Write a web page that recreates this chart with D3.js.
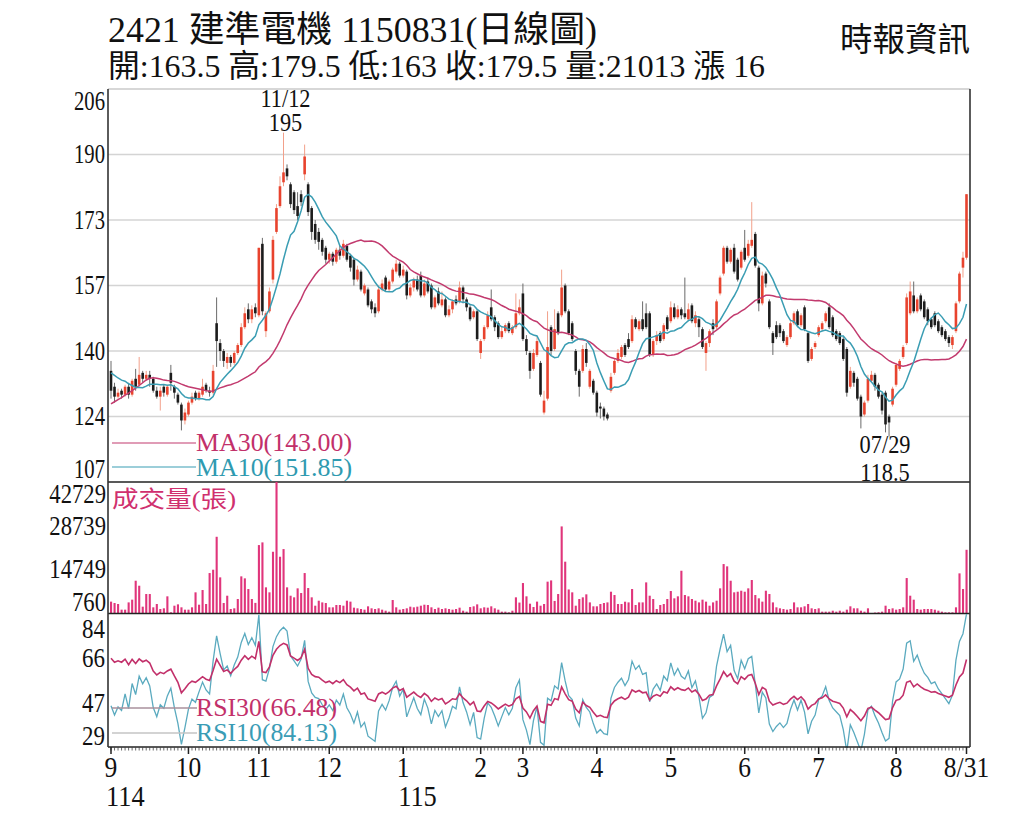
<!DOCTYPE html>
<html><head><meta charset="utf-8">
<script src="https://cdn.jsdelivr.net/npm/d3@7"></script>
<style>
body{margin:0;background:#fff}
svg{display:block}
text{font-family:"Liberation Serif","Noto Sans CJK TC",serif}
</style>
</head><body>
<svg id="chart" width="1024" height="819"></svg>
<script>
// ---------------- DATA ----------------
const stockCode = "2421", stockName = "建準電機", dateCode = "1150831", chartType = "日線圖";
const sourceName = "時報資訊";
// closes before the first visible day (only used to start MA / RSI)
const priorCloses = [112,113,114,113,112.5,113.5,114,113,112.5,113,120,126.5,132,136,137.5,134,133,135,136.5,134,135,136,134.5,133.5,135.5,137,136,134,133.5];
// daily candles [open, high, low, close]
const sep = [[135,137.5,128,130],[131,132,127,128.5],[128.5,130.5,128,129.5],[130,130.5,128,129],[129,131.5,128.5,131],[131,132,128,129],[129,133,128.5,132.5],[133,135.5,130,131],[131.5,138.5,131,134],[134.5,135,132,133],[133,135,132.5,134],[134,135,131,133],[133,133.5,129.5,130],[130,131,128,128.5],[128.5,131,125,130],[131,131.5,128.5,129.5],[129,131.5,128.5,131],[134.5,136.5,130,132],[131,131.5,128,129.5],[129,129.5,126.5,127],[126.5,127,120,122.5],[122.5,125.5,121.5,124.5]];
const oct = [[124,127.5,123.5,127],[127,129.5,126.5,128.5],[129.5,130,127.5,128],[128,130,127.5,129.5],[129,133,128.5,131],[131.5,132,129.5,130],[130,131,128.5,129.5],[129.5,136.5,129,135],[147,153.5,136,142.5],[142,143,137.5,140],[140,140.5,136,137.5],[137,139.5,135.5,138.5],[138.5,139,136,137],[137,140,136.5,139.5],[139.5,142,139,141.5],[141.5,147,141,146],[146,151,145.5,149.5],[150.5,152,147,148],[148,151.5,147,150.5],[151,152,148.5,149.5]];
const nov = [[149,166,148.5,166],[167,168.5,149,150],[145,150,143.5,149.5],[150,156,149.5,155],[158,169,157,168],[170,177,169.5,176],[176.5,184,176,181.5],[182.5,195,181.5,185],[186,187,183,184],[182,182.5,176,177],[180,180.5,174.5,175.5],[176.5,180,173,174],[179.5,180.5,176.5,177.5],[184.5,192,183,189],[182,182.5,174,175],[176,176.5,168,170],[172,173,167,168],[170,171,165.5,167.5],[168,168.5,164,165],[166,166.5,162,163]];
const dec = [[163,165,162,164.5],[164.5,165,161.5,162.5],[162.5,166,162,165.5],[165.5,166.5,163,164],[164,168,163.5,167],[166.5,167,162.5,163],[164,164.5,160,161],[163,163.5,156.5,158],[158,161.5,157.5,160.5],[160,160.5,155,155.5],[154.5,157,154,156.5],[155.5,156,151,151.5],[152.5,153,149.5,150.5],[151,152,148.5,149.5],[150,156.5,149.5,155.5],[155.5,158,155,157],[158.5,159,155,155.5],[155.5,158,155,157.5],[157.5,161,157,160.5],[160,163,159.5,162],[162,162.5,158.5,159]];
const jan = [[159,161.5,158.5,160.5],[160,160.5,153,154],[154,157,153.5,156],[156,158.5,155,158],[158,159,155,155.5],[159,160,153.5,154],[154,158,153.5,157],[157.5,158.5,154.5,155],[156.5,157,150.5,151],[151,154,150.5,153.5],[155,156,151.5,152],[151.5,155,151,153],[153,153.5,148.5,149],[149,151.5,148.5,150.5],[150.5,153,149.5,152.5],[153,154,151.5,152],[152.5,157.5,152,156],[156,156.5,152,153],[153,153.5,150,151],[151,151.5,147.5,148],[148.5,150.5,148,150],[150,150.5,142.5,143]];
const feb = [[139.5,143,138,142.5],[143,146.5,142.5,146],[146,150,145.5,149],[151,155.5,147.5,148],[148.5,149,145,146],[147,147.5,143,143.5],[143.5,146,143,145],[145,147,144.5,146.5],[147,147.5,144.5,145],[144.5,146.5,144,146],[146,154.5,145.5,149.5],[149.5,153,149,151]];
const mar = [[154.5,157,142.5,143],[143,144,139,140],[139.5,140,133,135],[135.5,140.5,135,139.5],[139,143.5,138.5,142.5],[137,137.5,128.5,129],[124.5,130,124,127.5],[128,150,127.5,141],[146,146.5,139,140],[140.5,150.5,140,145.5],[149.5,150,144,144.5],[149,160.5,148.5,156],[156.5,157,149.5,150],[150,150.5,144,144.5],[147,147.5,142.5,143],[140,140.5,134,135],[135,135.5,128.5,131],[135,141.5,134.5,140.5],[140.5,142,136,137],[131,135.5,130.5,135],[132.5,133,129,129.5]];
const apr = [[129.5,130,123.5,124.5],[126,127,123,125.5],[125.5,126,122.5,123.5],[124,124.5,122.5,123],[130,134.5,129.5,133.5],[134.5,138,134,137.5],[137.5,140.5,137,139.5],[138.5,141.5,138,141],[141.5,142,138.5,139],[143,144.5,140.5,141],[142.5,149,142,148],[148,148.5,145.5,146],[145.5,148,145,147.5],[148,152.5,145,145.5],[149.5,152,145.5,146],[149.5,150,138.5,139],[139,143,138.5,142.5],[142.5,145,141.5,144],[144.5,145,142,142.5],[143,147,142.5,146.5],[148.5,149,145,145.5]];
const may = [[147.5,152.5,147,151],[151,152,148,148.5],[148.5,151.5,148,150.5],[150.5,151,148,149],[149.5,158.5,148,148.5],[148,152,147.5,150.5],[151.5,152,147,147.5],[147,150,146,149],[148,148.5,143.5,146],[145.5,146,140.5,141],[139.5,142.5,135,142],[142,145.5,141,145],[147,148,144,145.5],[146,153,145.5,152.5],[154.5,159,154,158.5],[159.5,166.5,159,166],[166,166.5,162,162.5],[162.5,166,162,165.5],[166,167,159.5,160],[163,163.5,157.5,158],[161,165.5,160.5,165]];
const jun = [[166,170.5,162.5,163],[164,168,163.5,167],[166.5,177.5,166,168],[169.5,170,161,161.5],[161,161.5,150,152],[152,160,151.5,159],[159.5,160,156,157],[152.5,153,145.5,146],[144.5,145,139,142],[146.5,147.5,143,143.5],[146.5,147,143.5,144.5],[145,145.5,142,142.5],[141.5,144,141,143.5],[143.5,147.5,143,147],[147,150,146.5,149.5],[150,150.5,146,146.5],[146.5,149.5,146,149],[151,151.5,145,145.5],[144.5,145,137,137.5],[138,141,137.5,140.5],[141,142.5,140.5,142]];
const jul = [[144,146.5,143.5,146],[145.5,147.5,145,147],[147.5,150,147,149.5],[151,152,145.5,146],[148.5,149,143.5,144],[145,145.5,142.5,143],[144.5,145,141.5,142],[143,143.5,137.5,138],[140.5,141,128.5,129.5],[131,136,130.5,135],[134.5,135,131,132],[133,133.5,127.5,128],[128.5,129,120.5,123.5],[124,127.5,123.5,127],[127.5,134,127,133],[132.5,135,132,134],[134,134.5,130,131],[131.5,132,128,128.5],[129,129.5,124,125],[129.5,130,119.5,121.5],[123.5,124,118.5,122],[126.5,131,126,130.5]];
const aug = [[131.5,137,131,136.5],[135.5,138,135,137.5],[138.5,141.5,138,141],[142,154.5,141.5,153.5],[149.5,157.5,149,155],[154,157.5,149.5,150],[150,153.5,149.5,153],[154,154.5,150,150.5],[152.5,153,148,148.5],[150.5,151,146.5,147.5],[148,148.5,145.5,146],[149.5,150,146,146.5],[147.5,148,144.5,145],[146,146.5,143.5,144],[145,145.5,142.5,143],[143.5,144,141,142],[141.5,144,140.5,143.5],[145,152.5,144.5,152],[152.5,160,152,159.5],[161,165,158.5,163.5],[163.5,179.5,163,179.5]];
// daily volume (張)
const volSep = [4400,3960,3640,1830,1830,4160,5030,11100,9500,2790,6840,6840,2580,3640,2040,2260,6100,1000,3100,3530,2580,1830];
const volOct = [1830,2580,7380,3420,8120,3640,13560,14630,25180,12180,3960,6300,2040,2260,5240,12500,11860,8440,5240,4000];
const volNov = [22520,23380,8980,7380,20380,42729,18780,21240,8980,6300,5780,8660,7160,13560,8760,5780,3100,4700,4160,3960];
const volDec = [2580,2580,3320,3320,3100,4700,4400,2470,2260,2040,1830,2900,2260,2040,2260,1830,1500,1190,4920,2580,1830];
const volJan = [2040,2260,2790,2580,2790,3100,3420,3320,2580,2040,2470,2040,2260,2040,1830,2040,2470,1500,1190,2680,2900,3530];
const volFeb = [2260,2580,2470,2900,2260,1830,1190,1190,980,1500,5780,4100];
const volMar = [10360,6100,3740,2680,4410,3100,3640,10800,11200,4620,6840,28500,17200,8300,7380,3100,5240,5780,6740,4160,2900];
const volApr = [2900,3640,3960,4160,7580,6520,3640,3640,4380,4160,8440,3320,4160,4160,10570,6300,5240,2040,3320,3640,5240];
const volMay = [7800,5460,6100,14300,6520,6100,5240,4700,4160,5030,4400,3100,4160,4700,8660,16440,15700,11100,7380,7580,7900];
const volJun = [7580,8660,11330,6520,5460,4400,7900,6840,4160,2580,2260,2040,1830,2040,4160,2580,2580,2900,3640,2260,2040];
const volJul = [2260,1190,1190,1190,1500,1190,1500,1190,1830,2900,2260,2260,1500,1190,2260,760,900,1000,1190,3100,2040,2260];
const volAug = [1830,2040,2580,11960,6300,5030,2040,1830,2040,2040,2040,1830,1500,1190,980,980,980,2580,13460,8440,21013];
// axis labels
const monthLabels = ["9","10","11","12","1","2","3","4","5","6","7","8"];
const endLabel = "8/31";
const yearLabels = [["9","114"],["1","115"]];
const priceTickLabels = [107,124,140,157,173,190,206];
const volTickLabels = [760,14749,28739,42729];
const rsiTickLabels = [29,47,66,84];
const rsiRange = [29,84.13];
const rsiLegend = [66.48,84.13];
const extremeDates = ["11/12","07/29"];

// ---------------- PREP ----------------
const months = [sep,oct,nov,dec,jan,feb,mar,apr,may,jun,jul,aug];
const vols = [volSep,volOct,volNov,volDec,volJan,volFeb,volMar,volApr,volMay,volJun,volJul,volAug];
const candles = months.flat();
const volume = vols.flat();
const N = candles.length;
const monthStart = [];
{let s=0; months.forEach(m=>{monthStart.push(s); s+=m.length;});}
const closes = candles.map(d=>d[3]);
const full = priorCloses.concat(closes);
const P = priorCloses.length;
function ma(n){return closes.map((c,i)=>d3.mean(full.slice(P+i-n+1,P+i+1)));}
function rsi(n){
  const out=[]; let ag=0, al=0;
  for(let t=1;t<full.length;t++){
    const d=full[t]-full[t-1], g=Math.max(d,0), l=Math.max(-d,0);
    if(t<=n){ag=(ag*(t-1)+g)/t; al=(al*(t-1)+l)/t;}
    else{ag=(ag*(n-1)+g)/n; al=(al*(n-1)+l)/n;}
    out[t]= (ag+al)===0?50:100*ag/(ag+al);
  }
  return closes.map((c,i)=>out[P+i]);
}
const ma10=ma(10), ma30=ma(30), rsi10=rsi(10), rsi30=rsi(30);

// ---------------- LAYOUT ----------------
const L=108, R=970;
const pTop=89, pBot=482, vBot=613, rTop=614, rBot=747;
const svg=d3.select("#chart");
const x=d3.scaleLinear().domain([0,N-1]).range([111,966.5]);
const yP=d3.scaleLinear().domain([107,206]).range([pBot,pTop]);
const yV=d3.scaleLinear().domain([d3.min(volume),d3.max(volume)]).range([vBot,pBot]);
const yR=d3.scaleLinear().domain(rsiRange).range([rBot,rTop]);

const C={red:"#e8432e",redW:"#f2a08a",blk:"#1c1c1c",blkW:"#6a6a6a",ma30:"#c23a6e",ma10:"#3a9db3",vol:"#e0357b",rsi30:"#c2306a",rsi10:"#5aaabf",grid:"#d4d4d4",axis:"#333"};

function txt(g,xx,yy,s,o){
  o=o||{};
  const t=g.append("text").attr("x",xx).attr("y",yy).text(s)
   .attr("font-size",o.size||24).attr("fill",o.fill||"#111")
   .attr("text-anchor",o.anchor||"start");
  if(o.len) t.attr("textLength",o.len).attr("lengthAdjust","spacingAndGlyphs");
  if(o.sx) t.attr("transform",`translate(${xx},${yy}) scale(${o.sx},1) translate(${-xx},${-yy})`);
  return t;
}

const defs=svg.append("defs");
defs.append("clipPath").attr("id","cp").append("rect").attr("x",L).attr("y",pTop).attr("width",R-L).attr("height",pBot-pTop);
defs.append("clipPath").attr("id","cr").append("rect").attr("x",L).attr("y",rTop).attr("width",R-L).attr("height",rBot-rTop+1);

// ---------------- HEADER ----------------
const last=candles[N-1], prev=candles[N-2];
txt(svg,108,42,`${stockCode}  ${stockName} ${dateCode}(${chartType})`,{size:36,len:489});
txt(svg,108,77,`開:${last[0]} 高:${last[1]} 低:${last[2]} 收:${last[3]} 量:${volume[N-1]} 漲 ${last[3]-prev[3]}`,{size:32,len:657});
txt(svg,840,51,sourceName,{size:33,len:130});

// ---------------- PRICE PANEL ----------------
const gp=svg.append("g");
const pTicks=priceTickLabels.map((v,k)=>107+k*(206-107)/6);
gp.selectAll("line.grid").data(pTicks.slice(1)).join("line")
  .attr("x1",L).attr("x2",R).attr("y1",d=>yP(d)).attr("y2",d=>yP(d))
  .attr("stroke",C.grid).attr("stroke-width",1.5);
pTicks.forEach((v,k)=>{
  const yy=Math.min(Math.max(yP(v),pTop+12),pBot-13)+9;
  txt(gp,105,yy,String(priceTickLabels[k]),{size:28,anchor:"end",sx:0.74});
});
const gc=gp.append("g").attr("clip-path","url(#cp)");
const cg=gc.selectAll("g.c").data(candles).join("g");
cg.append("line").attr("x1",(d,i)=>x(i)).attr("x2",(d,i)=>x(i))
  .attr("y1",d=>yP(d[1])).attr("y2",d=>yP(d[2]))
  .attr("stroke",d=>d[3]>=d[0]?C.redW:C.blkW).attr("stroke-width",1);
cg.append("rect").attr("x",(d,i)=>x(i)-1.3).attr("width",2.6)
  .attr("y",d=>yP(Math.max(d[0],d[3])))
  .attr("height",d=>Math.max(1,Math.abs(yP(d[0])-yP(d[3]))))
  .attr("fill",d=>d[3]>=d[0]?C.red:C.blk);
const lineP=d3.line().x((d,i)=>x(i)).y(d=>yP(d));
gc.append("path").datum(ma30).attr("d",lineP).attr("fill","none").attr("stroke",C.ma30).attr("stroke-width",1.5);
gc.append("path").datum(ma10).attr("d",lineP).attr("fill","none").attr("stroke",C.ma10).attr("stroke-width",1.5);

// extremes
const hiI=d3.maxIndex(candles,d=>d[1]), loI=d3.minIndex(candles,d=>d[2]);
txt(gp,x(hiI)+2,107,extremeDates[0],{size:26,anchor:"middle",sx:0.86});
txt(gp,x(hiI)+2,131,String(candles[hiI][1]),{size:26,anchor:"middle",sx:0.86});
txt(gp,x(loI)-4,453,extremeDates[1],{size:26,anchor:"middle",sx:0.86});

// panel frame lines
svg.append("line").attr("x1",L).attr("x2",R).attr("y1",pTop).attr("y2",pTop).attr("stroke",C.grid).attr("stroke-width",1.5);
svg.append("line").attr("x1",L).attr("x2",R).attr("y1",pBot).attr("y2",pBot).attr("stroke","#222").attr("stroke-width",1.6);
// low value text with white background over the separator
gp.append("rect").attr("x",x(loI)-32).attr("y",466).attr("width",56).attr("height",20).attr("fill","#fff");
txt(gp,x(loI)-4,481,String(candles[loI][2]),{size:26,anchor:"middle",sx:0.86});

// MA legend
const legs=[[443,451,"MA30",ma30[N-1],C.ma30,"#c2306a"],[467,476,"MA10",ma10[N-1],C.ma10,"#2f9ab0"]];
legs.forEach(([ly,ty,nm,v,lc,tc])=>{
  gp.append("line").attr("x1",112).attr("x2",197).attr("y1",ly).attr("y2",ly).attr("stroke",lc).attr("stroke-width",1.2);
  gp.append("rect").attr("x",196).attr("y",ty-18).attr("width",157).attr("height",24).attr("fill","#fff");
  txt(gp,196,ty,`${nm}(${v.toFixed(2)})`,{size:25,fill:tc,len:156});
});

// ---------------- VOLUME PANEL ----------------
const gv=svg.append("g");
gv.selectAll("rect.v").data(volume).join("rect")
  .attr("x",(d,i)=>x(i)-1).attr("width",2.1)
  .attr("y",d=>yV(d)).attr("height",d=>vBot-yV(d)).attr("fill",C.vol);
volTickLabels.forEach(v=>{
  const yy=Math.min(Math.max(yV(v),pBot+12),vBot-11)+9;
  txt(gv,106,yy,String(v),{size:27,anchor:"end",sx:0.84});
});
txt(gv,112,507,"成交量(張)",{size:23,fill:"#d0306e",len:124});
svg.append("line").attr("x1",L).attr("x2",R).attr("y1",vBot+0.5).attr("y2",vBot+0.5).attr("stroke","#222").attr("stroke-width",1.5);

// ---------------- RSI PANEL ----------------
const gr=svg.append("g");
const rTicks=rsiTickLabels.map((v,k)=>rsiRange[0]+k*(rsiRange[1]-rsiRange[0])/3);
rTicks.forEach((v,k)=>{
  const yy=Math.min(Math.max(yR(v),rTop+15),rBot-11)+9;
  txt(gr,105,yy,String(rsiTickLabels[k]),{size:28,anchor:"end",sx:0.82});
});
const grc=gr.append("g").attr("clip-path","url(#cr)");
const lineR=d3.line().x((d,i)=>x(i)).y(d=>yR(d));
grc.append("path").datum(rsi10).attr("d",lineR).attr("fill","none").attr("stroke",C.rsi10).attr("stroke-width",1.3);
grc.append("path").datum(rsi30).attr("d",lineR).attr("fill","none").attr("stroke",C.rsi30).attr("stroke-width",1.6);
const rlegs=[[708,716,"RSI30",rsiLegend[0],"#a8909c","#c2306a"],[733,741,"RSI10",rsiLegend[1],"#c4c4c4","#3a9cb5"]];
rlegs.forEach(([ly,ty,nm,v,lc,tc])=>{
  gr.append("line").attr("x1",112).attr("x2",197).attr("y1",ly).attr("y2",ly).attr("stroke",lc).attr("stroke-width",1.3);
  txt(gr,196,ty,`${nm}(${v.toFixed(2)})`,{size:25,fill:tc,len:141});
});

// ---------------- X AXIS ----------------
const gx=svg.append("g");
gx.append("line").attr("x1",L).attr("x2",R).attr("y1",rBot).attr("y2",rBot).attr("stroke","#222").attr("stroke-width",1.6);
gx.selectAll("line.mt").data(d3.range(N)).join("line")
  .attr("x1",d=>x(d)).attr("x2",d=>x(d)).attr("y1",rBot).attr("y2",rBot+3.5)
  .attr("stroke","#444").attr("stroke-width",0.8);
const major=monthStart.concat([N-1]);
gx.selectAll("line.Mt").data(major).join("line")
  .attr("x1",d=>x(d)).attr("x2",d=>x(d)).attr("y1",rBot).attr("y2",rBot+7)
  .attr("stroke","#222").attr("stroke-width",1.5);
monthLabels.forEach((m,k)=>txt(gx,x(monthStart[k]),777,m,{size:30,anchor:"middle",sx:0.85}));
txt(gx,x(N-1),777,endLabel,{size:30,anchor:"middle",sx:0.85});
yearLabels.forEach(([m,yl])=>{
  const k=monthLabels.indexOf(m);
  txt(gx,x(monthStart[k])-5,806,yl,{size:30,sx:0.88});
});

// frame verticals
svg.append("line").attr("x1",L).attr("x2",L).attr("y1",pTop).attr("y2",rBot).attr("stroke",C.axis).attr("stroke-width",1.6);
svg.append("line").attr("x1",R).attr("x2",R).attr("y1",pTop).attr("y2",rBot).attr("stroke",C.axis).attr("stroke-width",1.6);
</script>
</body></html>
